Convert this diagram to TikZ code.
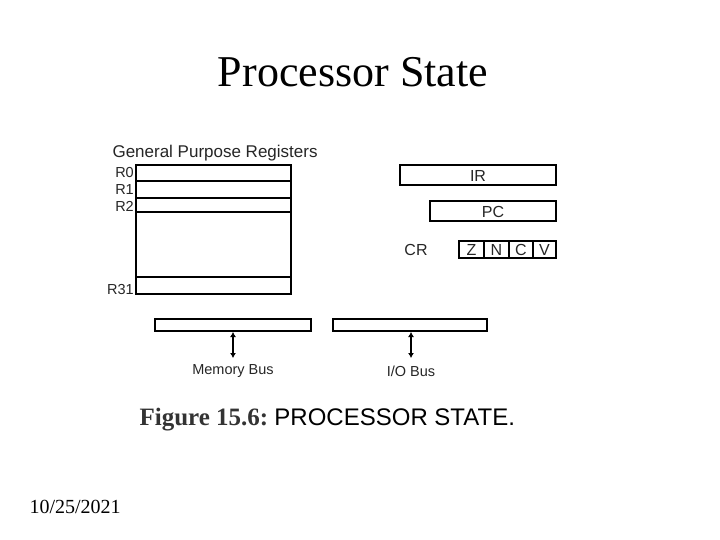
\documentclass[tikz,border=0pt]{standalone}
\usepackage{fontspec}
\setmainfont{Liberation Serif}
\setsansfont{Liberation Sans}
\usetikzlibrary{arrows.meta}
\begin{document}
\begin{tikzpicture}[x=1pt,y=-1pt,
  box/.style={draw,line width=1.3pt},
  lab/.style={font=\sffamily\fontsize{14.5}{16}\selectfont,text=black!85},
  big/.style={font=\sffamily\fontsize{16}{18}\selectfont,text=black!85},
  bus/.style={line width=1.4pt,{Latex[length=5pt,width=6pt]}-{Latex[length=5pt,width=6pt]}}]
\useasboundingbox[fill=white] (0,0) rectangle (720,540);
\node (title) at (353,72) {\fontsize{44}{48}\selectfont Processor State};
\node[lab,anchor=west] (gpr) at (109,153) {\fontsize{17}{19}\selectfont General Purpose Registers};
\draw[box] (136,165) rectangle (291,294);
\draw[box] (136,181) -- (291,181) (136,198) -- (291,198) (136,212) -- (291,212) (136,277) -- (291,277);
\node[lab,anchor=east,inner sep=1pt] (r0) at (135,173) {R0};
\node[lab,anchor=east,inner sep=1pt] (r1) at (135,190) {R1};
\node[lab,anchor=east,inner sep=1pt] (r2) at (135,206) {R2};
\node[lab,anchor=east,inner sep=1pt] (r31) at (135,290) {R31};
\draw[box] (400,165) rectangle (556,185);
\node[big] (ir) at (478,176) {IR};
\draw[box] (430,201) rectangle (556,221);
\node[big] (pc) at (493,212) {PC};
\node[big] (cr) at (416,250) {CR};
\draw[box] (459,241) rectangle (556,258);
\draw[box] (484,241) -- (484,258) (509,241) -- (509,258) (533,241) -- (533,258);
\node[big] (z) at (471.5,250) {Z};
\node[big] (n) at (496.5,250) {N};
\node[big] (c) at (521,250) {C};
\node[big] (v) at (544.5,250) {V};
\draw[box] (155,319) rectangle (311,331);
\draw[box] (333,319) rectangle (487,331);
\coordinate (m1) at (233,332); \coordinate (m2) at (233,358);
\coordinate (i1) at (411,332); \coordinate (i2) at (411,358);
\draw[bus] (m1) -- (m2);
\draw[bus] (i1) -- (i2);
\node[lab] (mb) at (233,371) {Memory Bus};
\node[lab] (iob) at (411,371) {I/O Bus};
\node[anchor=west] (cap) at (136,420) {\fontsize{25}{28}\selectfont\textcolor{black!80}{\bfseries Figure 15.6:}~\sffamily\fontsize{24}{28}\selectfont PROCESSOR STATE.};
\node[anchor=west] (date) at (26,507) {\fontsize{20}{22}\selectfont 10/25/2021};
\end{tikzpicture}
\end{document}
